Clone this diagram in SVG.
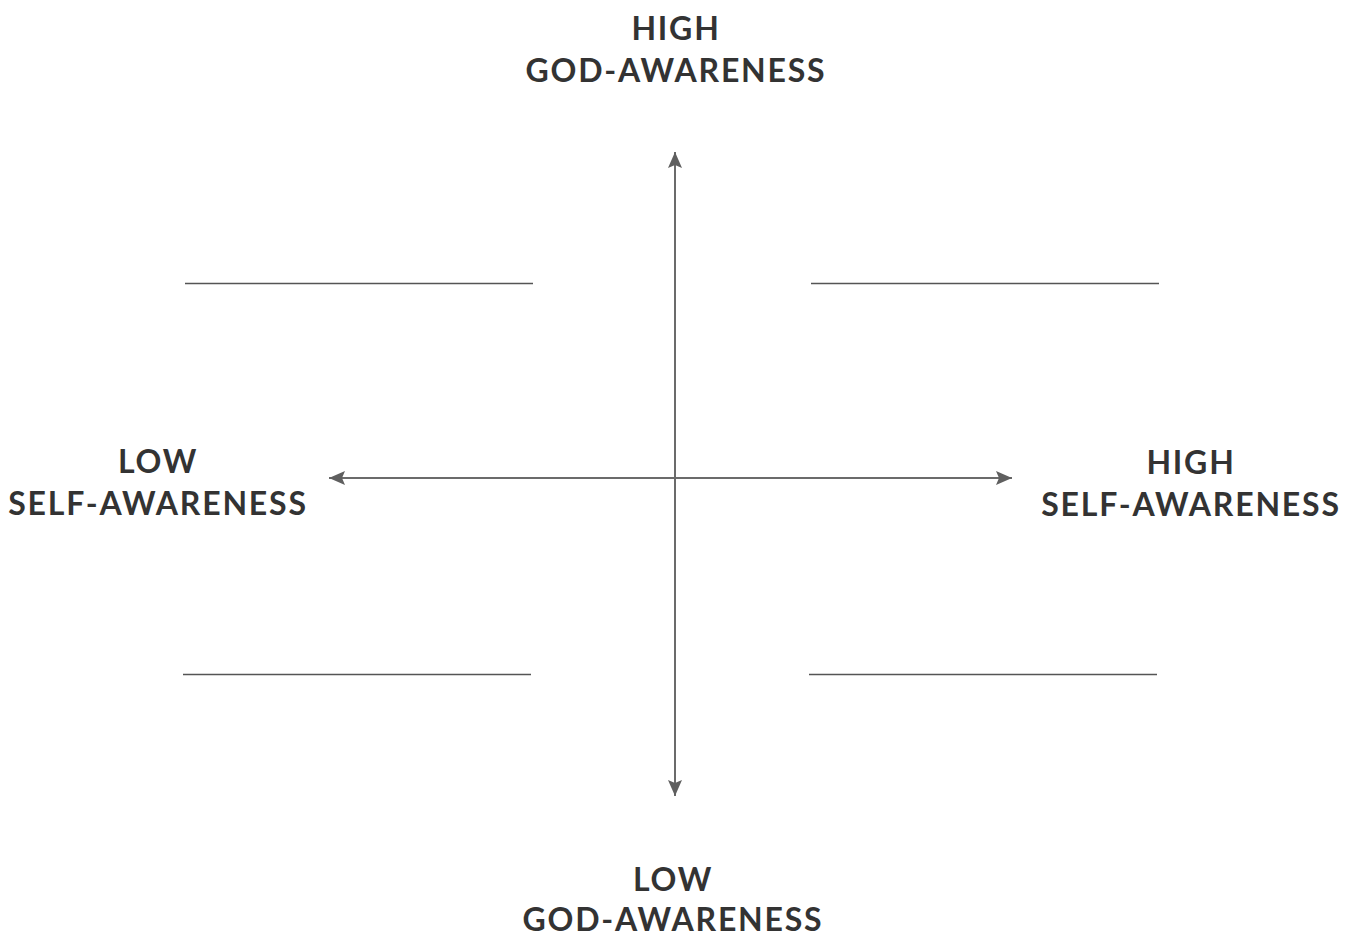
<svg xmlns="http://www.w3.org/2000/svg" width="1354" height="936" viewBox="0 0 1354 936">
<style>
text{font-family:Lato,"Noto Sans",sans-serif;font-weight:700;font-size:32px;fill:#333;text-anchor:middle;letter-spacing:1.8px}
.ax{stroke:#6b6b6b;stroke-width:2;fill:none}
.ln{stroke:#555;stroke-width:1.5}
</style>
<defs>
<marker id="ah" viewBox="0 0 16 14" refX="16" refY="7" markerWidth="16" markerHeight="14" markerUnits="userSpaceOnUse" orient="auto">
<path d="M0,0 L16,7 L0,14 L3,7 Z" fill="#5f5f5f"/>
</marker>
</defs>
<rect width="1354" height="936" fill="#fff"/>
<g id="connectors">
<line class="ax" x1="675" y1="478" x2="675" y2="152" marker-end="url(#ah)"/>
<line class="ax" x1="675" y1="478" x2="675" y2="796" marker-end="url(#ah)"/>
<line class="ax" x1="675" y1="478" x2="329" y2="478" marker-end="url(#ah)"/>
<line class="ax" x1="675" y1="478" x2="1012" y2="478" marker-end="url(#ah)"/>
</g>
<g id="lines">
<line class="ln" x1="185" y1="283.5" x2="533" y2="283.5"/>
<line class="ln" x1="811" y1="283.5" x2="1159" y2="283.5"/>
<line class="ln" x1="183" y1="674.5" x2="531" y2="674.5"/>
<line class="ln" x1="809" y1="674.5" x2="1157" y2="674.5"/>
</g>
<g id="top-label"><text x="676" y="40">HIGH</text><text x="676" y="82">GOD-AWARENESS</text></g>
<g id="left-label"><text x="158" y="473">LOW</text><text x="158" y="515">SELF-AWARENESS</text></g>
<g id="right-label"><text x="1191" y="474">HIGH</text><text x="1191" y="516">SELF-AWARENESS</text></g>
<g id="bottom-label"><text x="673" y="890.5">LOW</text><text x="673" y="931">GOD-AWARENESS</text></g>
</svg>
